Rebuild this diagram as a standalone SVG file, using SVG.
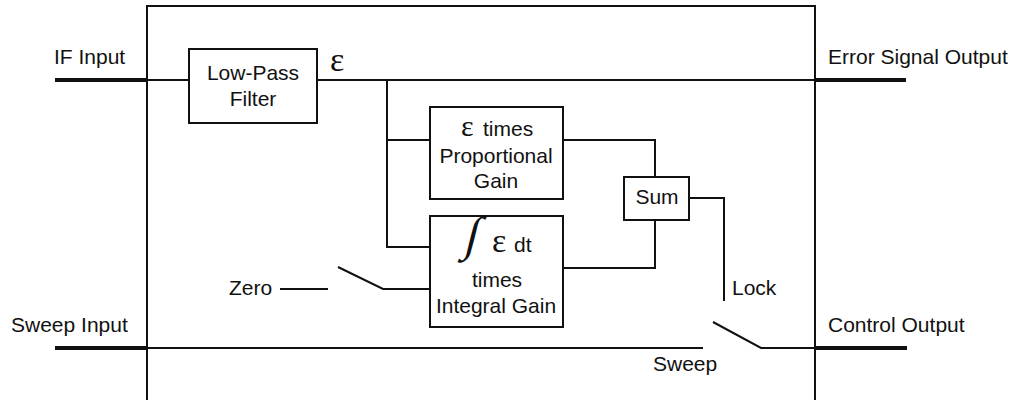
<svg xmlns="http://www.w3.org/2000/svg" width="1012" height="400" viewBox="0 0 1012 400">
<style>
text{font-family:"Liberation Sans",Arial,sans-serif;font-size:21px;fill:#111}
.eps{font-family:"Liberation Serif","Times New Roman",serif}
.c{text-anchor:middle}
.box{fill:#fff;stroke:#111;stroke-width:2}
.w{fill:none;stroke:#111;stroke-width:2}
.t{fill:none;stroke:#111;stroke-width:4}
</style>
<rect width="1012" height="400" fill="#fff"/>
<g id="enclosure"><path class="w" d="M147,400 V6 H815 V400"/></g>
<g id="connectors">
<path class="t" d="M55,80 H147"/>
<path class="w" d="M147,80 H189"/>
<path class="w" d="M317,80 H815"/>
<path class="t" d="M815,80 H906"/>
<path class="w" d="M387,80 V247 H430"/>
<path class="w" d="M387,140 H430"/>
<path class="w" d="M563,140 H655 V177"/>
<path class="w" d="M563,268 H655 V220"/>
<path class="w" d="M689,198 H724 V301"/>
<path class="w" d="M280,289 H328"/>
<path class="w" d="M338,267 L383,289 H430"/>
<path class="t" d="M55,348 H147"/>
<path class="w" d="M147,348 H703"/>
<path class="w" d="M713,322 L761,348 H815"/>
<path class="t" d="M815,348 H907"/>
</g>
<g id="lpf">
<rect class="box" x="189" y="49" width="128" height="74"/>
<text class="c" x="253" y="80">Low-Pass</text>
<text class="c" x="253" y="106">Filter</text>
</g>
<g id="prop">
<rect class="box" x="430" y="107" width="133" height="92"/>
<text x="461" y="136"><tspan class="eps" style="font-size:30px">ε</tspan><tspan x="483">times</tspan></text>
<text class="c" x="496" y="163">Proportional</text>
<text class="c" x="496" y="188">Gain</text>
</g>
<g id="integ">
<rect class="box" x="430" y="216" width="133" height="111"/>
<text class="eps" x="466" y="250" transform="translate(473,238) skewX(-14) translate(-473,-238)" style="font-size:48px">∫</text>
<text x="492" y="252"><tspan class="eps" style="font-size:34px">ε</tspan><tspan x="514">dt</tspan></text>
<text class="c" x="497" y="287">times</text>
<text class="c" x="496" y="313">Integral Gain</text>
</g>
<g id="sum">
<rect class="box" x="624" y="177" width="65" height="43"/>
<text class="c" x="657" y="204">Sum</text>
</g>
<g id="labels">
<text x="54" y="64">IF Input</text>
<text x="828" y="64">Error Signal Output</text>
<text class="eps" x="330" y="71" style="font-size:34px">ε</text>
<text x="11" y="332">Sweep Input</text>
<text x="828" y="332">Control Output</text>
<text x="229" y="295">Zero</text>
<text x="732" y="295">Lock</text>
<text x="653" y="371">Sweep</text>
</g>
</svg>
